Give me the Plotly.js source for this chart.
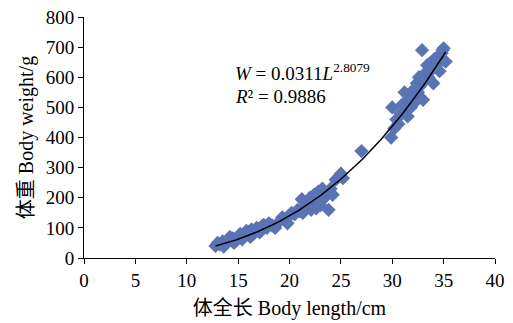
<!DOCTYPE html>
<html>
<head>
<meta charset="utf-8">
<script src="https://cdn.plot.ly/plotly-3.0.1.min.js"></script>
<style>html,body{margin:0;padding:0;background:#fff;}#chart{width:513px;height:323px;}</style>
</head>
<body>
<div id="chart"></div>
<script>
// Body length (cm)
var lengthCm = [12.8,13.0,13.2,13.5,13.8,14.0,14.2,14.5,14.8,15.0,15.2,15.5,15.8,16.0,16.3,16.5,16.8,17.0,17.3,17.5,17.8,18.0,18.3,
  13.6,14.6,15.4,16.2,17.1,18.6,
  19.0,19.3,19.6,20.0,20.2,20.5,20.8,21.0,21.2,21.5,21.7,22.0,22.2,22.4,22.6,22.8,23.0,23.2,23.4,23.6,23.8,24.0,24.2,24.5,24.8,25.0,25.2,
  19.8,21.3,22.1,23.1,
  27.0,29.9,30.0,30.2,30.4,30.6,30.8,31.0,31.2,31.3,31.5,31.6,31.8,32.0,32.1,32.3,32.4,32.5,32.6,32.7,32.9,33.0,33.1,33.2,33.4,33.5,33.7,33.8,34.0,34.1,34.3,34.5,34.6,34.8,34.9,35.0,35.2];
// Body weight (g)
var weightG = [40,50,45,55,48,60,70,65,58,70,80,75,90,85,95,80,100,95,105,110,100,115,108,
  38,50,62,70,85,100,
  120,135,130,140,150,145,160,155,195,170,180,200,185,210,165,220,175,230,200,215,160,230,210,260,270,280,265,
  115,150,160,190,
  355,400,500,430,460,445,480,510,550,490,470,520,500,540,560,520,580,550,600,570,690,525,610,590,640,600,620,650,580,660,640,670,620,680,690,696,652];
// Power fit W = a * L^b (from chart equation)
var fitA = 0.0311, fitB = 2.8079, fitFrom = 12.8, fitTo = 35.2;
var xTicks = [0,5,10,15,20,25,30,35,40];
var yTicks = [0,100,200,300,400,500,600,700,800];

var fx = [], fy = [];
for (var i = 0; i <= 100; i++) {
  var L = fitFrom + (fitTo - fitFrom) * i / 100;
  fx.push(L); fy.push(fitA * Math.pow(L, fitB));
}
var font = "'Liberation Serif','Times New Roman','Noto Sans CJK SC',serif";
var data = [
  {x: lengthCm, y: weightG, type: 'scatter', mode: 'markers',
   marker: {symbol: 'diamond', size: 11, color: '#5a73b3'}, hoverinfo: 'none'},
  {x: fx, y: fy, type: 'scatter', mode: 'lines', line: {color: '#000', width: 1.5}, hoverinfo: 'none'}
];
var layout = {
  width: 513, height: 323,
  margin: {l: 83.5, r: 18, t: 17, b: 65},
  showlegend: false,
  paper_bgcolor: '#fff', plot_bgcolor: '#fff',
  font: {family: font, size: 19, color: '#000'},
  xaxis: {range: [0, 40], tickvals: xTicks, ticks: 'outside', ticklen: 5, tickcolor: '#000',
    showgrid: false, zeroline: false, showline: true, linecolor: '#000', linewidth: 1,
    tickfont: {family: font, size: 19},
    title: {text: '体全长 Body length/cm', font: {family: font, size: 20}, standoff: 11}},
  yaxis: {range: [0, 800], tickvals: yTicks, ticks: 'outside', ticklen: 5, tickcolor: '#000',
    showgrid: false, zeroline: false, showline: true, linecolor: '#000', linewidth: 1,
    tickfont: {family: font, size: 19},
    title: {text: '体重 Body weight/g', font: {family: font, size: 20}, standoff: 6}},
  annotations: [
    {x: 14.5, y: 618, xref: 'x', yref: 'y', xanchor: 'left', yanchor: 'middle', showarrow: false,
     text: '<i>W</i> = 0.0311<i>L</i><sup>2.8079</sup>', font: {family: font, size: 19}},
    {x: 14.5, y: 535, xref: 'x', yref: 'y', xanchor: 'left', yanchor: 'middle', showarrow: false,
     text: '<i>R</i>² = 0.9886', font: {family: font, size: 19}}
  ]
};
Plotly.newPlot('chart', data, layout, {staticPlot: true, displayModeBar: false});
</script>
</body>
</html>
